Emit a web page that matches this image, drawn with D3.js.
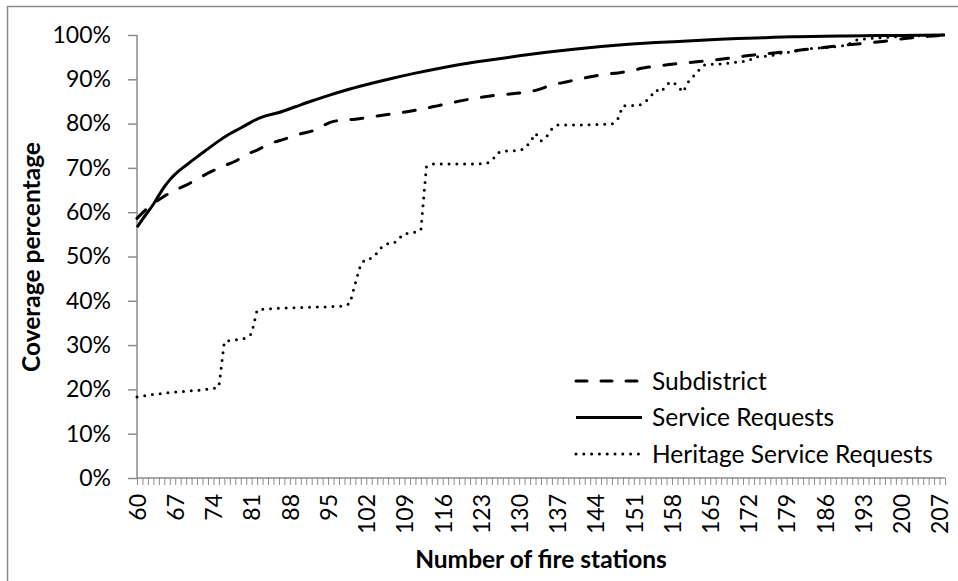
<!DOCTYPE html>
<html>
<head>
  <meta charset="UTF-8">
  <title>Coverage percentage by number of fire stations</title>
  <style>
  body { margin:0; background:#fff; }
  svg text { font-family:Lato, "Open Sans", sans-serif; fill:#000; }
  </style>
</head>
<body>
  <div id="chart"></div>
  <script src="https://d3js.org/d3.v7.min.js"></script>
  <script type="text/javascript">
    // category axis: one category per number of fire stations
    var stations = d3.range(60, 209);
    var tickLabels = d3.range(60, 209, 7);
    var yTicks = d3.range(0, 101, 10);

    // Subdistrict (dashed)
    var subX = [60, 62, 65, 67, 69, 71, 73, 76, 78, 80, 82, 84, 87, 90, 92, 94, 96, 100, 105, 110, 115, 120, 125, 130, 133, 136, 139, 142, 145, 149, 153, 158, 163, 168, 173, 178, 183, 188, 193, 197, 202, 205, 208];
    var subY = [58.6, 61.0, 63.6, 65.0, 66.1, 67.5, 68.8, 70.5, 71.5, 73.0, 74.0, 75.3, 76.5, 77.7, 78.3, 79.5, 80.5, 81.0, 81.9, 82.8, 84.0, 85.3, 86.3, 86.9, 87.5, 88.7, 89.5, 90.3, 91.0, 91.6, 92.6, 93.4, 94.0, 94.7, 95.5, 96.1, 96.8, 97.5, 98.1, 98.6, 99.4, 99.7, 100];

    // Service Requests (solid)
    var srvX = [60, 61, 62, 63, 64, 65, 66, 67, 69, 71, 73, 75, 77, 79, 81, 83, 86, 89, 92, 95, 99, 103, 107, 111, 115, 120, 125, 130, 135, 140, 145, 150, 155, 160, 165, 170, 175, 180, 190, 200, 208];
    var srvY = [56.6, 58.4, 60.1, 61.8, 63.8, 65.7, 67.3, 68.6, 70.6, 72.5, 74.3, 76.1, 77.7, 79.0, 80.4, 81.5, 82.5, 83.8, 85.1, 86.3, 87.8, 89.1, 90.3, 91.4, 92.4, 93.5, 94.4, 95.3, 96.1, 96.8, 97.4, 97.9, 98.3, 98.6, 98.9, 99.2, 99.4, 99.6, 99.8, 99.9, 100];

    // Heritage Service Requests (dotted)
    var herX = [60, 62, 64, 66, 68, 70, 72, 74, 75, 76, 77, 79, 80, 81, 82, 83, 86, 90, 94, 98, 99, 100, 101, 102, 103, 104, 105, 106, 107, 108, 109, 110, 111, 112, 113, 114, 118, 122, 124, 125, 126, 127, 130, 131, 132, 133, 134, 135, 136, 137, 142, 147, 148, 149, 150, 152, 153, 154, 155, 156, 157, 158, 159, 160, 161, 162, 163, 164, 165, 166, 168, 170, 172, 173, 175, 176, 178, 180, 182, 184, 186, 188, 190, 192, 196, 200, 208];
    var herY = [18.3, 18.7, 19.0, 19.3, 19.5, 19.7, 19.9, 20.2, 20.6, 30.8, 31.0, 31.3, 31.6, 32.6, 37.9, 38.1, 38.3, 38.5, 38.6, 38.8, 39.4, 44.0, 48.3, 49.5, 49.6, 50.8, 52.4, 52.9, 52.9, 54.1, 55.2, 55.2, 55.5, 55.9, 70.2, 70.9, 70.9, 70.9, 71.0, 71.6, 73.3, 73.8, 73.9, 74.4, 75.8, 77.8, 76.1, 77.0, 78.8, 79.7, 79.7, 79.9, 80.8, 84.0, 84.1, 84.1, 84.8, 86.0, 87.6, 87.1, 88.8, 89.5, 88.6, 87.1, 89.4, 90.8, 92.2, 93.3, 93.4, 93.4, 93.6, 93.9, 94.1, 95.0, 95.2, 95.3, 95.9, 96.2, 96.7, 97.0, 97.1, 97.4, 97.7, 99.0, 99.4, 99.7, 100];

    var seriesNames = ["Subdistrict", "Service Requests", "Heritage Service Requests"];

    var svg = d3.select("#chart")
      .append("svg")
      .attr("width", 958)
      .attr("height", 581);

    // chart area border
    svg.append("rect")
      .attr("x", 7.5)
      .attr("y", 6.5)
      .attr("width", 1000)
      .attr("height", 700)
      .attr("fill", "none")
      .attr("stroke", "#8c8c8c")
      .attr("stroke-width", 1.5);

    var x = d3.scalePoint()
      .domain(stations)
      .range([137, 945]);

    var y = d3.scaleLinear()
      .domain([0, 100])
      .range([478, 35]);

    var yAxis = svg.append("g")
      .attr("transform", "translate(137,0)")
      .call(d3.axisLeft(y)
        .tickValues(yTicks)
        .tickSize(9)
        .tickPadding(17)
        .tickFormat(function(d) { return d + "%"; }));

    var xAxis = svg.append("g")
      .attr("transform", "translate(0,478)")
      .call(d3.axisBottom(x)
        .tickValues(stations)
        .tickSize(7)
        .tickFormat(function(d) { return tickLabels.indexOf(d) >= 0 ? d : ""; }));

    xAxis.selectAll("text")
      .attr("transform", "rotate(-90)")
      .attr("text-anchor", "end")
      .attr("x", -16)
      .attr("y", 0)
      .attr("dy", "0.36em");

    svg.selectAll(".tick line")
      .attr("stroke", "#8c8c8c")
      .attr("stroke-width", 1.5);
    xAxis.selectAll(".tick line").attr("stroke-width", 1);

    svg.selectAll(".tick text")
      .attr("font-size", 23)
      .attr("fill", "#000");
    yAxis.select(".domain").remove();
    xAxis.select(".domain").remove();
    svg.append("line")
      .attr("x1", 137).attr("x2", 137)
      .attr("y1", 35).attr("y2", 478)
      .attr("stroke", "#8c8c8c").attr("stroke-width", 1.5);
    svg.append("line")
      .attr("x1", 137).attr("x2", 945)
      .attr("y1", 478).attr("y2", 478)
      .attr("stroke", "#8c8c8c").attr("stroke-width", 1.5);

    function pairs(xs, ys) {
      return xs.map(function(s, i) { return [s, ys[i]]; });
    }

    var smooth = d3.line()
      .x(function(d) { return x(d[0]); })
      .y(function(d) { return y(d[1]); })
      .curve(d3.curveMonotoneX);

    var straight = d3.line()
      .x(function(d) { return x(d[0]); })
      .y(function(d) { return y(d[1]); });

    var dashes = ["12 14.5", null, "0 7.8"];

    svg.append("path")
      .datum(pairs(herX, herY))
      .attr("fill", "none")
      .attr("stroke", "#000")
      .attr("stroke-width", 3)
      .attr("stroke-linecap", "round")
      .attr("stroke-dasharray", dashes[2])
      .attr("d", straight);

    svg.append("path")
      .datum(pairs(subX, subY))
      .attr("fill", "none")
      .attr("stroke", "#000")
      .attr("stroke-width", 3)
      .attr("stroke-linecap", "round")
      .attr("stroke-dasharray", dashes[0])
      .attr("d", smooth);

    svg.append("path")
      .datum(pairs(srvX, srvY))
      .attr("fill", "none")
      .attr("stroke", "#000")
      .attr("stroke-width", 3)
      .attr("stroke-linejoin", "round")
      .attr("d", smooth);

    // legend
    var legend = svg.append("g");
    seriesNames.forEach(function(name, i) {
      var ly = 381 + i * 36.5;
      legend.append("line")
        .attr("x1", 576).attr("x2", 642)
        .attr("y1", ly).attr("y2", ly)
        .attr("stroke", "#000")
        .attr("stroke-width", 3)
        .attr("stroke-linecap", i == 1 ? "butt" : "round")
        .attr("stroke-dasharray", i == 0 ? "11 14" : dashes[i]);
      legend.append("text")
        .attr("x", 652)
        .attr("y", ly)
        .attr("dy", "0.36em")
        .attr("font-size", 24.5)
        .text(name);
    });

    // axis titles
    svg.append("text")
      .attr("transform", "translate(31,257) rotate(-90)")
      .attr("text-anchor", "middle")
      .attr("dy", "0.36em")
      .attr("font-size", 24.5)
      .attr("font-weight", "bold")
      .text("Coverage percentage");

    svg.append("text")
      .attr("x", 541)
      .attr("y", 568)
      .attr("text-anchor", "middle")
      .attr("font-size", 24.5)
      .attr("font-weight", "bold")
      .text("Number of fire stations");
  </script>
</body>
</html>
